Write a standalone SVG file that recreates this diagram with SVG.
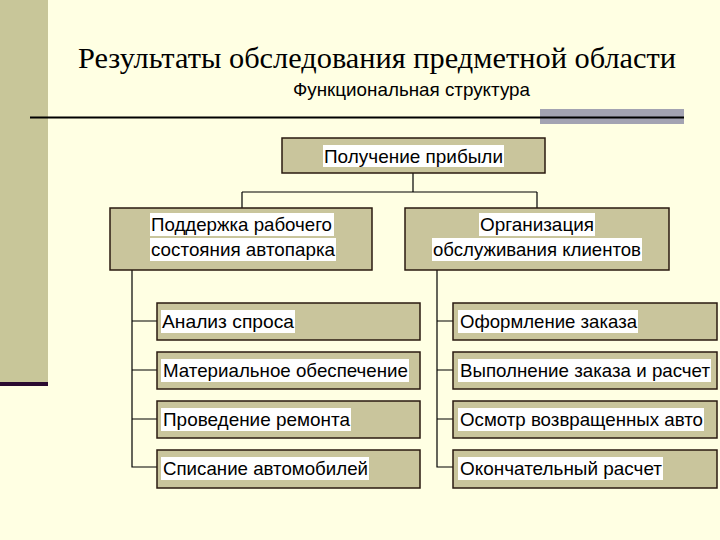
<svg xmlns="http://www.w3.org/2000/svg" width="720" height="540" viewBox="0 0 720 540">
<style>
.box{fill:#C9C59C;stroke:#2a1a10;stroke-width:1.5}
.hl{fill:#fff}
.t{font-family:"Liberation Sans",Arial,sans-serif;font-size:19px;fill:#000}
.c{stroke:#000;stroke-width:1.2;fill:none}
</style>
<rect width="720" height="540" fill="#FFFFE3"/>
<rect x="0" y="0" width="48" height="382" fill="#C8C699"/>
<rect x="0" y="382" width="48" height="4" fill="#2a0a30"/>
<text x="78" y="68" font-family="Liberation Serif,serif" font-size="30" fill="#000" textLength="598" lengthAdjust="spacingAndGlyphs">Результаты обследования предметной области</text>
<text x="293" y="96" class="t" font-size="17" textLength="237" lengthAdjust="spacingAndGlyphs">Функциональная структура</text>
<rect x="540" y="109" width="144" height="15" fill="#A3A3B2"/>
<line x1="30" y1="117.5" x2="684" y2="117.5" stroke="#000" stroke-width="2"/>
<g id="connectors">
<path class="c" d="M413 173V192M242 192H537M242 192V208M537 192V208"/>
<path class="c" d="M132 270V467H157M132 321H157M132 370H157M132 419H157"/>
<path class="c" d="M437 270V467H453M437 321H453M437 370H453M437 419H453"/>
</g>
<g id="n0"><rect class="box" x="282" y="138" width="263" height="35"/><rect class="hl" x="323" y="145" width="181" height="22"/><text class="t" x="324" y="163" textLength="179" lengthAdjust="spacingAndGlyphs">Получение прибыли</text></g>
<g id="n1"><rect class="box" x="110" y="208" width="262" height="62"/><rect class="hl" x="150" y="213" width="184" height="23"/><rect class="hl" x="150" y="238" width="186" height="23"/><text class="t" x="151" y="231" textLength="181" lengthAdjust="spacingAndGlyphs">Поддержка рабочего</text><text class="t" x="151" y="256" textLength="184" lengthAdjust="spacingAndGlyphs">состояния автопарка</text></g>
<g id="n2"><rect class="box" x="405" y="208" width="264" height="62"/><rect class="hl" x="479" y="213" width="116" height="23"/><rect class="hl" x="432" y="238" width="210" height="23"/><text class="t" x="480" y="231" textLength="114" lengthAdjust="spacingAndGlyphs">Организация</text><text class="t" x="433" y="256" textLength="208" lengthAdjust="spacingAndGlyphs">обслуживания клиентов</text></g>
<g id="l1"><rect class="box" x="157" y="303" width="263" height="37"/><rect class="hl" x="161" y="310" width="134" height="23"/><text class="t" x="162" y="328" textLength="132" lengthAdjust="spacingAndGlyphs">Анализ спроса</text></g>
<g id="l2"><rect class="box" x="157" y="352" width="263" height="37"/><rect class="hl" x="161" y="359" width="248" height="23"/><text class="t" x="163" y="377" textLength="245" lengthAdjust="spacingAndGlyphs">Материальное обеспечение</text></g>
<g id="l3"><rect class="box" x="157" y="401" width="263" height="37"/><rect class="hl" x="161" y="408" width="190" height="23"/><text class="t" x="163" y="426" textLength="187" lengthAdjust="spacingAndGlyphs">Проведение ремонта</text></g>
<g id="l4"><rect class="box" x="157" y="450" width="263" height="38"/><rect class="hl" x="161" y="457" width="208" height="23"/><text class="t" x="163" y="475" textLength="205" lengthAdjust="spacingAndGlyphs">Списание автомобилей</text></g>
<g id="r1"><rect class="box" x="453" y="303" width="264" height="37"/><rect class="hl" x="458" y="310" width="180" height="23"/><text class="t" x="460" y="328" textLength="177" lengthAdjust="spacingAndGlyphs">Оформление заказа</text></g>
<g id="r2"><rect class="box" x="453" y="352" width="264" height="37"/><rect class="hl" x="458" y="359" width="253" height="23"/><text class="t" x="460" y="377" textLength="250" lengthAdjust="spacingAndGlyphs">Выполнение заказа и расчет</text></g>
<g id="r3"><rect class="box" x="453" y="401" width="264" height="37"/><rect class="hl" x="458" y="408" width="246" height="23"/><text class="t" x="460" y="426" textLength="243" lengthAdjust="spacingAndGlyphs">Осмотр возвращенных авто</text></g>
<g id="r4"><rect class="box" x="453" y="450" width="264" height="38"/><rect class="hl" x="458" y="457" width="205" height="23"/><text class="t" x="460" y="475" textLength="202" lengthAdjust="spacingAndGlyphs">Окончательный расчет</text></g>
</svg>
